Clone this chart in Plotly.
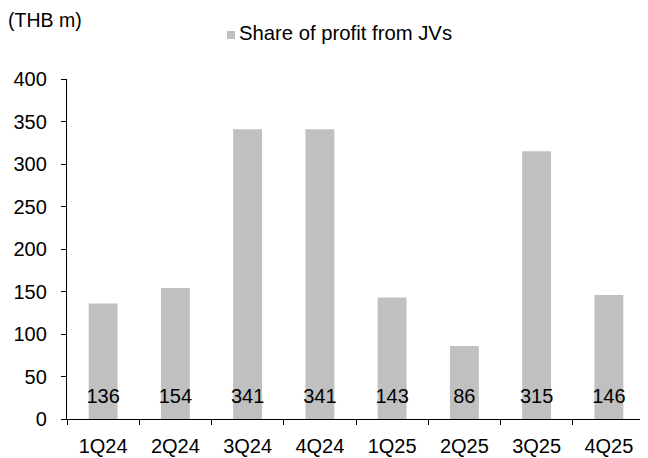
import plotly.graph_objects as go

categories = ["1Q24", "2Q24", "3Q24", "4Q24", "1Q25", "2Q25", "3Q25", "4Q25"]
values = [136, 154, 341, 341, 143, 86, 315, 146]
series_name = "Share of profit from JVs"
label_y = [25] * len(categories)

FONT = "Liberation Sans, Arial"
OFF = 8  # default page body margin of the HTML page
W, H = 648, 458
# desired plot box in window pixels
PL, PT, PR, PB = 67, 79, 645, 419
ML, MT = PL - OFF, PT - OFF
MR, MB = W - (PR - OFF), H - (PB - OFF)
PW, PH = W - ML - MR, H - MT - MB

def px_x(x):
    return (x - OFF - ML) / PW

def px_y(y):
    return (H - MB - (y - OFF)) / PH

fig = go.Figure()
fig.add_trace(go.Bar(x=categories, y=values, name=series_name, showlegend=False,
                     marker=dict(color="#C0C0C0", line=dict(width=0))))
fig.add_trace(go.Scatter(x=categories, y=label_y, mode="text",
                         text=[str(v) for v in values], textposition="middle center",
                         textfont=dict(size=20, color="#000000", family=FONT),
                         showlegend=False, hoverinfo="skip", cliponaxis=False))

fig.update_layout(
    width=W, height=H,
    margin=dict(l=ML, r=MR, t=MT, b=MB, autoexpand=False),
    paper_bgcolor="white", plot_bgcolor="white",
    font=dict(family=FONT, size=20, color="#000000"),
    bargap=0.6,
    showlegend=False,
    xaxis=dict(type="category", showline=True, linecolor="#000000", linewidth=1.3,
               ticks="outside", tickson="boundaries", ticklen=5, tickcolor="#000000",
               tickwidth=1.3, showgrid=False, tickfont=dict(size=20), ticklabelstandoff=9),
    yaxis=dict(range=[0, 400], dtick=50, showline=True, linecolor="#000000", linewidth=1.3,
               ticks="outside", ticklen=5, tickcolor="#000000", tickwidth=1.3,
               showgrid=False, zeroline=False, tickfont=dict(size=20), ticklabelstandoff=10),
    shapes=[dict(type="rect", xref="paper", yref="paper",
                 x0=px_x(227), x1=px_x(235), y0=px_y(39), y1=px_y(31),
                 fillcolor="#C0C0C0", line=dict(width=0))],
    annotations=[
        dict(text="(THB m)", xref="paper", yref="paper", x=px_x(6), y=px_y(20),
             xanchor="left", yanchor="middle", showarrow=False, font=dict(size=19.5)),
        dict(text=series_name, xref="paper", yref="paper", x=px_x(237), y=px_y(33),
             xanchor="left", yanchor="middle", showarrow=False, font=dict(size=20.3)),
    ],
)

fig.write_html("out.html")
